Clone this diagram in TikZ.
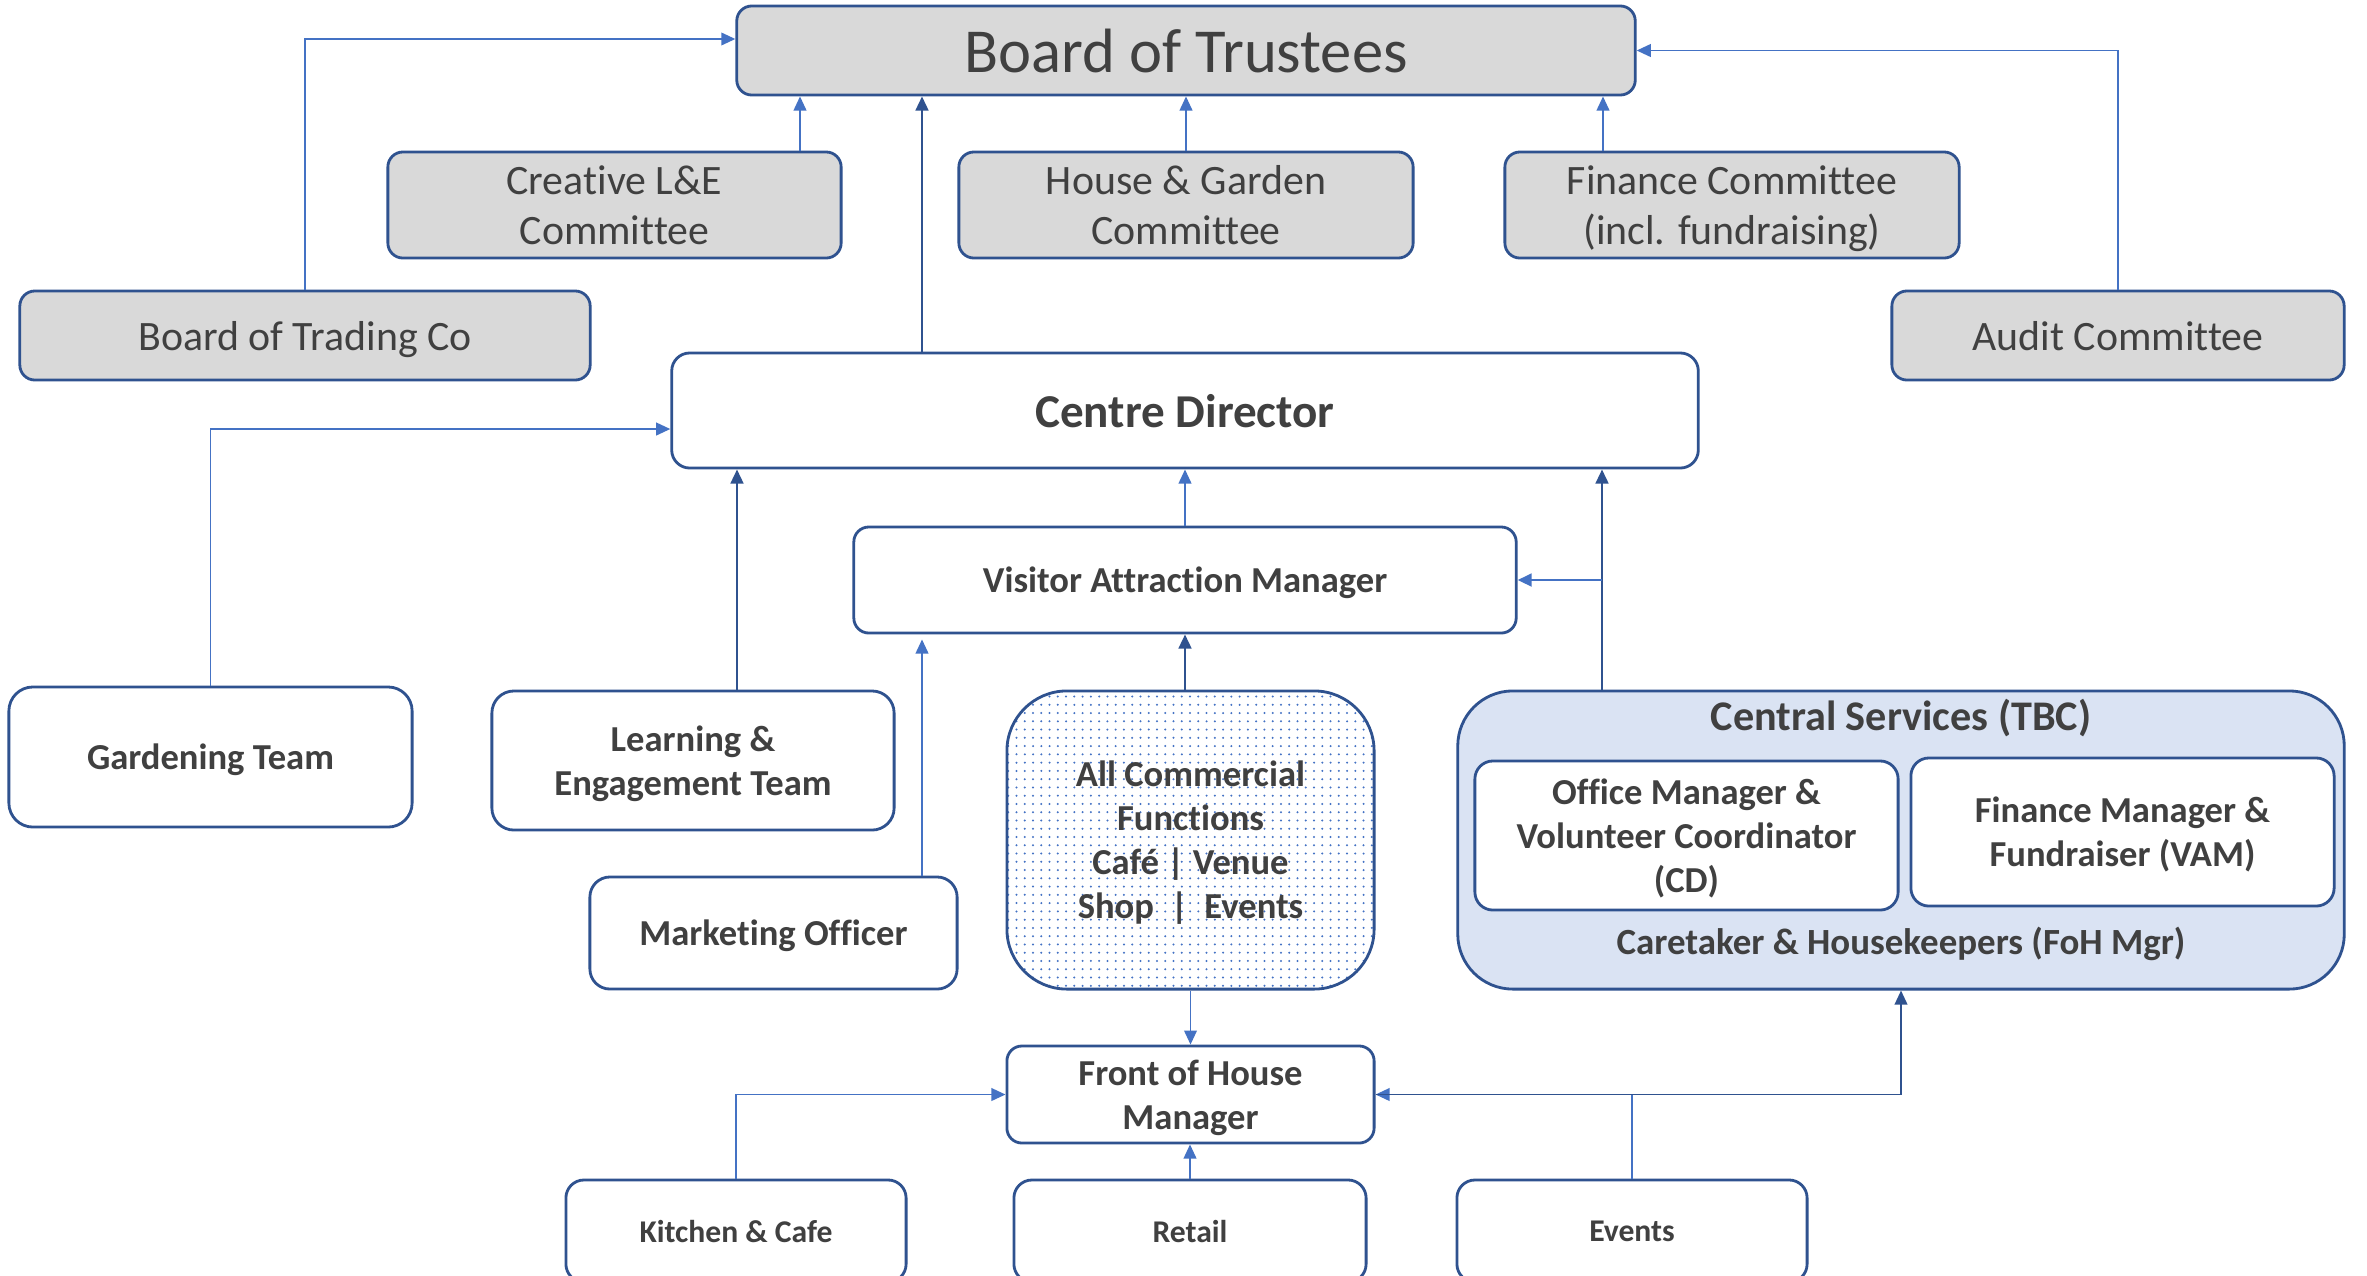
\documentclass[tikz,border=0pt]{standalone}
\usepackage{fontspec}
\setmainfont{Carlito}[Ligatures=CommonOff]
\usetikzlibrary{arrows.meta,patterns.meta,calc}
\definecolor{bord}{HTML}{2F528F}
\definecolor{lite}{HTML}{4472C4}
\definecolor{grayfill}{HTML}{D9D9D9}
\definecolor{csfill}{HTML}{DAE3F3}
\definecolor{txt}{HTML}{404040}
\begin{document}
\begin{tikzpicture}[x=0.01cm,y=-0.01cm,
 box/.style={draw=bord,line width=0.8pt,rounded corners=0.15cm,align=center,text=txt,inner sep=0pt,text depth=0pt},
 gbox/.style={box,fill=grayfill,font=\fontsize{11.9}{14.2}\selectfont},
 wbox/.style={box,fill=white,font=\bfseries\fontsize{10.4}{12.5}\selectfont},
 sbox/.style={box,fill=white,rounded corners=0.18cm,font=\bfseries\fontsize{9}{11}\selectfont},
 darr/.style={draw=bord,line width=0.7pt,-{Triangle[length=4pt,width=3.6pt]}},
 larr/.style={draw=lite,line width=0.5pt,-{Triangle[length=4pt,width=3.6pt]}},
]
\clip (0,0) rectangle (2367,1275);
\fill[white] (0,0) rectangle (2367,1275);

% top level
\node[gbox,minimum width=8.98cm,minimum height=0.89cm,font=\fontsize{17.8}{21}\selectfont] (bot) at (1186,50.5) {Board of Trustees};
\node[gbox,minimum width=4.53cm,minimum height=1.06cm] (cre) at (614.5,205) {Creative L\&E\\Committee};
\node[gbox,minimum width=4.54cm,minimum height=1.06cm] (hg) at (1186,205) {House \& Garden\\Committee};
\node[gbox,minimum width=4.54cm,minimum height=1.06cm] (fin) at (1732,205) {Finance Committee\\(incl. fundraising)};
\node[gbox,minimum width=5.70cm,minimum height=0.89cm] (btc) at (305,335.5) {Board of Trading Co};
\node[gbox,minimum width=4.52cm,minimum height=0.89cm] (aud) at (2118,335.5) {Audit Committee};

% centre director level
\node[wbox,minimum width=10.26cm,minimum height=1.15cm,rounded corners=0.18cm,font=\bfseries\fontsize{13.4}{16}\selectfont] (cd) at (1185,410.5) {Centre Director};
\node[wbox,minimum width=6.62cm,minimum height=1.06cm] (vam) at (1185,580) {Visitor Attraction Manager};
\node[wbox,minimum width=4.03cm,minimum height=1.40cm,rounded corners=0.24cm] (gar) at (210.5,757) {Gardening Team};
\node[wbox,minimum width=4.02cm,minimum height=1.39cm,rounded corners=0.22cm] (le) at (693,760.5) {Learning \&\\Engagement Team};
\node[wbox,minimum width=3.67cm,minimum height=1.12cm,rounded corners=0.2cm] (mkt) at (773.5,933) {Marketing Officer};
\node[wbox,fill=none,minimum width=3.67cm,minimum height=2.98cm,rounded corners=0.6cm,
      preaction={fill=white},pattern={Dots[distance=2.35pt,radius=0.32pt]},pattern color=lite] (acf) at (1190.5,840)
      {All Commercial\\Functions\\Caf\'e | Venue\\Shop \ | \ Events};

% central services
\node[box,fill=csfill,minimum width=8.86cm,minimum height=2.98cm,rounded corners=0.55cm] (cs) at (1901,840) {};
\node[text=txt,font=\bfseries\fontsize{12}{14}\selectfont] (cstitle) at (1901,718) {Central Services (TBC)};
\node[wbox,minimum width=4.23cm,minimum height=1.49cm,rounded corners=0.18cm] (om) at (1686.5,835.5) {Office Manager \&\\Volunteer Coordinator\\(CD)};
\node[wbox,minimum width=4.23cm,minimum height=1.48cm,rounded corners=0.18cm] (fm) at (2122.5,832) {Finance Manager \&\\Fundraiser (VAM)};
\node[text=txt,font=\bfseries\fontsize{10.5}{12.5}\selectfont] (care) at (1901,944) {Caretaker \& Housekeepers (FoH Mgr)};

% front of house
\node[wbox,minimum width=3.67cm,minimum height=0.97cm] (foh) at (1190.5,1094.5) {Front of House\\Manager};
\node[sbox,minimum width=3.40cm,minimum height=1.02cm] (kit) at (736,1231) {Kitchen \& Cafe};
\node[sbox,minimum width=3.52cm,minimum height=1.02cm] (ret) at (1190,1231) {Retail};
\node[sbox,minimum width=3.50cm,minimum height=1.02cm] (evt) at (1632,1231) {Events};

% helper x positions
\coordinate (x800) at (800,0);
\coordinate (x922) at (922,0);
\coordinate (x1603) at (1603,0);
\coordinate (x737) at (737,0);
\coordinate (x1602) at (1602,0);

% connectors to board
\draw[larr] (btc.north) |- ([yshift=0.115cm]bot.west);
\draw[larr] (aud.north) |- (bot.east);
\draw[larr] (cre.north -| x800) -- (bot.south -| x800);
\draw[darr] (cd.north -| x922) -- (bot.south -| x922);
\draw[larr] (hg.north) -- (bot.south);
\draw[larr] (fin.north -| x1603) -- (bot.south -| x1603);

% connectors to centre director
\draw[larr] (gar.north) |- ([yshift=-0.185cm]cd.west);
\draw[darr] (le.north -| x737) -- (cd.south -| x737);
\draw[larr] (vam.north) -- (cd.south);
\draw[darr] (cs.north -| x1602) -- (cd.south -| x1602);
\draw[larr,line width=0.8pt] (vam.east -| x1602) -- (vam.east);

% connectors to VAM
\draw[larr] (mkt.north -| x922) -- ([yshift=-0.05cm]vam.south -| x922);
\draw[darr] (acf.north -| vam.south) -- (vam.south);

% front of house
\draw[larr] (acf.south) -- (foh.north);
\draw[larr] (kit.north) |- (foh.west);
\draw[larr] (ret.north) -- (ret.north |- foh.south);
\draw[larr] (evt.north) |- (foh.east);
\draw[darr,line width=0.5pt] (foh.east) -| (cs.south);
\end{tikzpicture}
\end{document}
